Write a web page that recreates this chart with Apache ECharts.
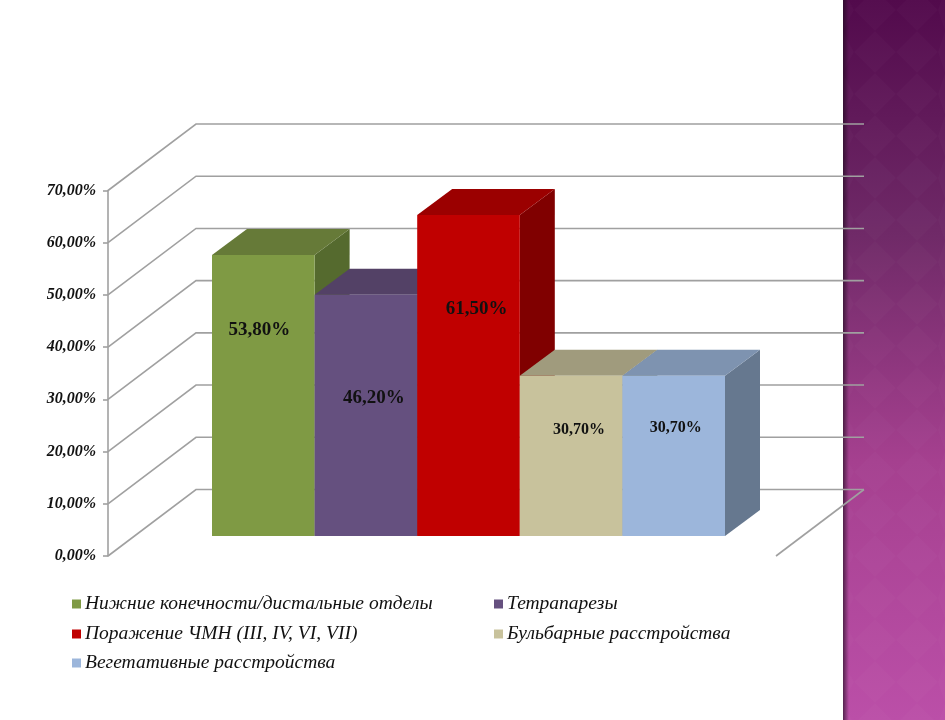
<!DOCTYPE html>
<html><head><meta charset="utf-8">
<style>html,body{margin:0;padding:0;background:#fff}#c{width:945px;height:720px}</style>
<script src="https://cdn.jsdelivr.net/npm/echarts@6/dist/echarts.min.js"></script>
</head><body><div id="c"></div>
<script>
const categories = ['Нижние конечности/дистальные отделы','Тетрапарезы','Поражение ЧМН (III, IV, VI, VII)','Бульбарные расстройства','Вегетативные расстройства'];
const values = [53.8, 46.2, 61.5, 30.7, 30.7];
const valueLabels = ['53,80%','46,20%','61,50%','30,70%','30,70%'];
const tickValues = [0,10,20,30,40,50,60,70];

const faceColors = ['#7f9a44','#65507f','#c00000','#c8c29c','#9cb6db'];
const topColors  = ['#667a38','#534166','#9b0000','#a09b7d','#7e93b0'];
const sideColors = ['#556a2e','#463755','#800000','#85826a','#66788f'];
const labelNudge = [[-4,-65],[8,-17],[8,-66],[8,-26],[2,-28]];
const labelSizes = [19,19,19,16,16];
const legendPos = [[72,594],[494,594],[72,624],[494,624],[72,653]];

const DX=35, DY=26, WALL_DX=88, WALL_DY=66.5, FRONT_GAP=20, AXIS_SHIFT=104, WALL_RIGHT=864, FLOOR_END=776;
const LINE='#a0a0a0';

function bar(i){
  return function(params, api){
    const top = api.coord([api.value(0), api.value(1)]);
    const base = api.coord([api.value(0), 0]);
    const w = api.size([1,0])[0];
    const l = top[0]-w/2, r = top[0]+w/2, t = top[1]-FRONT_GAP, b = base[1]-FRONT_GAP;
    return {type:'group',children:[
      {type:'polygon',shape:{points:[[r,t],[r+DX,t-DY],[r+DX,b-DY],[r,b]]},style:{fill:sideColors[i]}},
      {type:'polygon',shape:{points:[[l,t],[r,t],[r+DX,t-DY],[l+DX,t-DY]]},style:{fill:topColors[i]}},
      {type:'rect',shape:{x:l,y:t,width:w,height:b-t},style:{fill:faceColors[i]}},
      {type:'text',x:top[0]+labelNudge[i][0],y:(t+b)/2+labelNudge[i][1],
        style:{text:valueLabels[i],align:'center',verticalAlign:'middle',fill:'#111',
          font:'bold '+labelSizes[i]+'px "Liberation Serif"'}}
    ]};
  };
}
function wall(params, api){
  const v = api.value(1);
  const p = api.coord([0, v]);
  const x0 = params.coordSys.x - AXIS_SHIFT, y = p[1];
  const line = {stroke:LINE,lineWidth:1.6,fill:null};
  const kids = [{type:'polyline',shape:{points:[[x0,y],[x0+WALL_DX,y-WALL_DY],[WALL_RIGHT,y-WALL_DY]]},style:line}];
  if(v===0) kids.push({type:'line',shape:{x1:WALL_RIGHT,y1:y-WALL_DY,x2:FLOOR_END,y2:y},style:line});
  return {type:'group',children:kids};
}

// decorative side panel
const panel=[{type:'rect',shape:{x:843,y:0,width:102,height:720},silent:true,
  style:{fill:new echarts.graphic.LinearGradient(0,0,0,1,[
    {offset:0,color:'#520a4c'},{offset:.33,color:'#702a68'},{offset:.64,color:'#a5408f'},{offset:1,color:'#bb4fa8'}])}}];
const S=21;
for(let a=0;a<40;a++)for(let b=0;b<40;b++){
  if((a+b)%2) continue;
  const cx=843+(a-b)*S+ 200, cy=(a+b)*S-200;
  if(cx<843-S||cx>945+S||cy<-S||cy>720+S) continue;
  const pts=[[cx,cy-S],[cx+S,cy],[cx,cy+S],[cx-S,cy]].map(q=>[Math.max(843,Math.min(945,q[0])),q[1]]);
  panel.push({type:'polygon',shape:{points:pts},silent:true,style:{fill:'rgba(255,255,255,0.018)'}});
}
panel.push({type:'rect',shape:{x:843,y:0,width:6,height:720},silent:true,
  style:{fill:new echarts.graphic.LinearGradient(0,0,1,0,[{offset:0,color:'rgba(30,10,30,0.65)'},{offset:1,color:'rgba(30,10,30,0)'}])}});

const chart=echarts.init(document.getElementById('c'),null,{renderer:'canvas'});
chart.setOption({
  animation:false,
  backgroundColor:'#fff',
  graphic:[{type:'group',z:-10,silent:true,children:panel}],
  grid:{left:212,width:513,top:190.5,height:365.5},
  xAxis:{type:'category',data:categories,show:false,boundaryGap:true},
  yAxis:{type:'value',min:0,max:70,interval:10,offset:AXIS_SHIFT,
    axisLine:{show:true,lineStyle:{color:LINE,width:1.6}},
    axisTick:{show:true,length:5,lineStyle:{color:LINE,width:1.6}},
    splitLine:{show:false},
    axisLabel:{margin:12,color:'#111',fontFamily:'Liberation Serif',fontSize:16,fontStyle:'italic',fontWeight:'bold',
      formatter:v=>v.toFixed(2).replace('.',',')+'%'}},
  legend:categories.map((c,i)=>({data:[c],left:legendPos[i][0],top:legendPos[i][1],
    icon:'rect',itemWidth:9,itemHeight:9,itemGap:0,padding:0,selectedMode:false,
    textStyle:{fontFamily:'Liberation Serif',fontStyle:'italic',fontSize:19.5,color:'#111',padding:[0,0,0,-1]}})),
  series:[
    {type:'custom',name:'walls',silent:true,z:1,renderItem:wall,encode:{x:0,y:1},clip:false,
     data:tickValues.map(v=>[0,v])},
    ...categories.map((c,i)=>({type:'custom',name:c,z:2+i,clip:false,renderItem:bar(i),encode:{x:0,y:1},
      itemStyle:{color:faceColors[i]},data:[[c,values[i]]]}))
  ]
});
</script></body></html>
